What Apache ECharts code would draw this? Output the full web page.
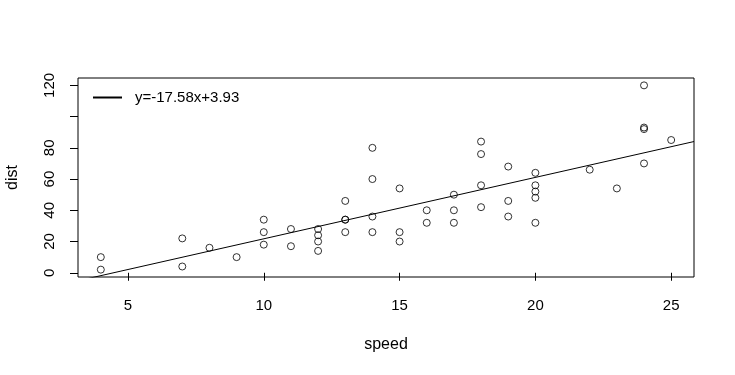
<!DOCTYPE html>
<html><head><meta charset="utf-8">
<script src="https://cdn.jsdelivr.net/npm/echarts@6/dist/echarts.min.js"></script>
<style>html,body{margin:0;padding:0;background:#fff}#c{width:735px;height:375px}</style>
</head><body><div id="c"></div>
<script>
var speed = [4,4,7,7,8,9,10,10,10,11,11,12,12,12,12,13,13,13,13,14,14,14,14,15,15,15,16,16,17,17,17,18,18,18,18,19,19,19,20,20,20,20,20,22,23,24,24,24,24,25];
var dist = [2,10,4,22,16,10,18,26,34,17,28,14,20,24,28,26,34,34,46,26,36,60,80,20,26,54,32,40,32,40,50,42,56,76,84,36,46,68,32,48,52,56,64,66,54,70,92,93,120,85];
var xTicks = [5,10,15,20,25];
var yTicks = [0,20,40,60,80,100,120];
var yTickLabels = ['0','20','40','60','80','','120'];
var intercept = -17.5791;
var slope = 3.9324;
var legendLabel = 'y=-17.58x+3.93';
var xMin = 3.16, xMax = 25.84, yMin = -2.72, yMax = 124.72;

var pts = speed.map(function(s,i){return [s, dist[i]];});
var fit = [[xMin, intercept + slope*xMin],[xMax, intercept + slope*xMax]];

var chart = echarts.init(document.getElementById('c'));
var font = 'Liberation Sans, Arial, sans-serif';
chart.setOption({
  animation:false,
  backgroundColor:'#fff',
  grid:{left:78,top:78,right:41,bottom:98,show:true,borderColor:'#000',borderWidth:1,backgroundColor:'transparent',
        containLabel:false, outerBoundsMode:'none'},
  legend:{
    left:88, top:85, itemWidth:29, itemHeight:14, itemGap:0,
    data:[{name:legendLabel, icon:'path://M0,0L29,0L29,2L0,2Z'}],
    textStyle:{color:'#000', fontSize:15, fontFamily:font, padding:[0,0,0,8]},
    selectedMode:false
  },
  xAxis:{type:'value', min:xMin, max:xMax, name:'speed', nameLocation:'middle', nameGap:60,
    nameTextStyle:{color:'#000', fontSize:16, fontFamily:font},
    axisLine:{show:false}, splitLine:{show:false},
    axisTick:{show:true, length:8, inside:false, customValues:xTicks, lineStyle:{color:'#000'}},
    axisLabel:{color:'#000', fontSize:15, fontFamily:font, margin:21, customValues:xTicks}
  },
  yAxis:{type:'value', min:yMin, max:yMax, name:'dist', nameLocation:'middle', nameGap:57, nameRotate:90,
    nameTextStyle:{color:'#000', fontSize:16, fontFamily:font},
    axisLine:{show:false}, splitLine:{show:false},
    axisTick:{show:true, length:8, customValues:yTicks, lineStyle:{color:'#000'}},
    axisLabel:{color:'#000', fontSize:15, fontFamily:font, rotate:90, margin:21, customValues:yTicks,
      formatter:function(v){var i=yTicks.indexOf(v); return i>=0?yTickLabels[i]:'';}}
  },
  series:[
    {type:'scatter', data:pts, symbol:'circle', symbolSize:7, silent:true,
     itemStyle:{color:'transparent', borderColor:'#000', borderWidth:1}},
    {type:'line', name:legendLabel, data:fit, symbol:'none', clip:true, silent:true,
     lineStyle:{color:'#000', width:1}, itemStyle:{color:'#000'}}
  ]
});
</script></body></html>
